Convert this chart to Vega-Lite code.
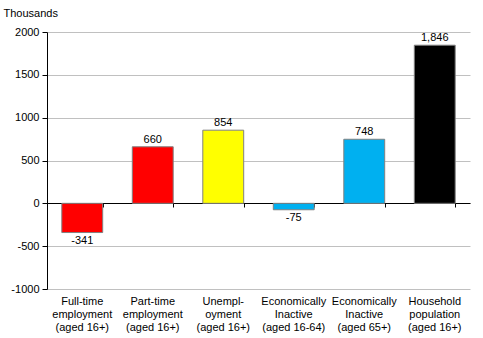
{
  "$schema": "https://vega.github.io/schema/vega-lite/v6.json",
  "autosize": "none",
  "width": 423,
  "height": 257,
  "padding": {"left": 47, "top": 32, "right": 13, "bottom": 49},
  "background": "white",
  "config": {
    "view": {"stroke": null},
    "font": "Liberation Sans",
    "locale": {"number": {"decimal": ".", "thousands": ",", "grouping": [3], "currency": ["$", ""], "minus": "-"}},
    "axis": {"labelFont": "Liberation Sans", "labelFontSize": 11, "labelColor": "black", "titleFont": "Liberation Sans"}
  },
  "data": {
    "values": [
      {"category": "Full-time|employment|(aged 16+)", "group": "Employment", "value": -341},
      {"category": "Part-time|employment|(aged 16+)", "group": "Employment", "value": 660},
      {"category": "Unempl-|oyment|(aged 16+)", "group": "Unemployment", "value": 854},
      {"category": "Economically|Inactive|(aged 16-64)", "group": "Inactive", "value": -75},
      {"category": "Economically|Inactive|(aged 65+)", "group": "Inactive", "value": 748},
      {"category": "Household|population|(aged 16+)", "group": "Population", "value": 1846}
    ]
  },
  "encoding": {
    "x": {"field": "category", "type": "nominal", "sort": null,
      "scale": {"paddingInner": 0.42, "paddingOuter": 0.21}}
  },
  "layer": [
    {
      "mark": {"type": "bar", "stroke": "#808080", "strokeWidth": 1},
      "encoding": {
        "x": {"field": "category", "type": "nominal", "sort": null,
          "axis": {"title": null, "labelAngle": 0, "domain": false, "ticks": false, "labelPadding": 6,
            "labelExpr": "split(datum.label, '|')", "labelLineHeight": 13, "labelBaseline": "top", "labelLimit": 0}},
        "y": {"field": "value", "type": "quantitative",
          "scale": {"domain": [-1000, 2000], "nice": false, "zero": true},
          "axis": {"values": [-1000, -500, 0, 500, 1000, 1500, 2000], "title": "Thousands", "titleAngle": 0,
            "titleAlign": "left", "titleBaseline": "alphabetic", "titleX": -44, "titleY": -16, "titleFontSize": 11,
            "titleFontWeight": "normal", "titleColor": "black",
            "domainColor": "black", "tickColor": "black", "tickSize": 5, "labelPadding": 3,
            "gridColor": "#c0c0c0", "gridWidth": 1, "labelExpr": "datum.value + ''"}},
        "color": {"field": "group", "type": "nominal", "legend": null,
          "scale": {"domain": ["Employment", "Unemployment", "Inactive", "Population"],
            "range": ["#ff0000", "#ffff00", "#00b0f0", "#000000"]}}
      }
    },
    {
      "transform": [{"filter": "datum.value >= 0"}],
      "mark": {"type": "text", "baseline": "bottom", "dy": -2, "fontSize": 11, "color": "black"},
      "encoding": {
        "x": {"field": "category", "type": "nominal", "sort": null, "axis": null},
        "y": {"field": "value", "type": "quantitative"},
        "text": {"field": "value", "type": "quantitative", "format": ","}
      }
    },
    {
      "transform": [{"filter": "datum.value < 0"}],
      "mark": {"type": "text", "baseline": "top", "dy": 2, "fontSize": 11, "color": "black"},
      "encoding": {
        "x": {"field": "category", "type": "nominal", "sort": null,
          "axis": {"orient": "top", "title": null, "labels": false, "grid": false, "domain": true, "domainColor": "black",
            "ticks": true, "tickColor": "black", "tickSize": -4, "tickBand": "extent", "offset": -171}},
        "y": {"field": "value", "type": "quantitative"},
        "text": {"field": "value", "type": "quantitative", "format": ","}
      }
    }
  ],
  "resolve": {"axis": {"x": "independent"}}
}
